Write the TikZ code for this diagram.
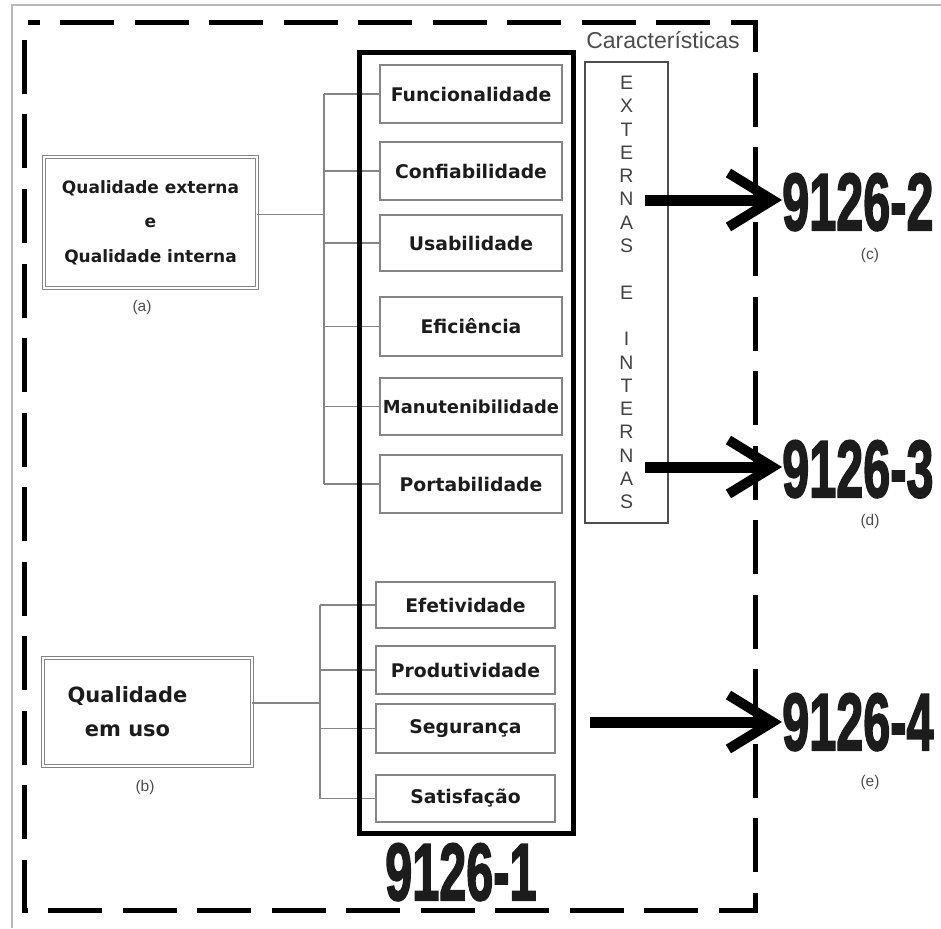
\documentclass[tikz,border=0pt]{standalone}
\usepackage{fontspec}
\usepackage{graphicx}
\setsansfont{DejaVu Sans}
\newfontfamily\arialfont{Liberation Sans}
\newfontfamily\numfont{Liberation Sans}[BoldFeatures={FakeBold=2.5}]
\usetikzlibrary{arrows.meta}
\definecolor{ink}{HTML}{1C1C1C}
\definecolor{edge}{HTML}{858585}
\definecolor{note}{HTML}{4D4D4D}

\begin{document}
\begin{tikzpicture}[x=1pt,y=-1pt,text=ink,line join=miter,
  item/.style={draw=edge,line width=1.2pt,minimum width=182pt,inner sep=0pt,
    font=\fontsize{18.8}{20}\selectfont\sffamily\bfseries},
  group/.style={draw=edge,line width=0.8pt,double,double distance=1.6pt,inner sep=0pt},
  link/.style={edge,line width=1.2pt},
  tag/.style={font=\fontsize{15.5}{17}\selectfont\arialfont,text=note},
  num/.style={inner sep=0pt,anchor=base west,text depth=0pt,
    font=\fontsize{81}{81}\selectfont\numfont\bfseries},
  bigarrow/.style={line width=11pt,-{Straight Barb[length=44pt,width=54pt,line width=10pt]}},
  dashframe/.style={line width=5pt,dash pattern=on 54pt off 20.5pt}]
  \useasboundingbox (0,0) rectangle (941,928);

  % page frame and dashed border
  \draw[gray!55,line width=1.5pt] (12,928) -- (12,5) -- (941,5);
  \draw[dashframe] (24,40) -- (24,910) -- (755,910) -- (755,23) -- (28,23);

  % left groups
  \node[group,minimum width=213pt,minimum height=131pt,align=center,
        font=\fontsize{17}{34.5}\selectfont\sffamily\bfseries] (qext) at (150.5,222.5)
    {Qualidade externa\\e\\Qualidade interna};
  \node[tag] (lbla) at (142,307) {(a)};
  \node[group,minimum width=209pt,minimum height=108pt] (quso) at (147.5,712) {};
  \node[align=center,inner sep=0pt,
        font=\fontsize{21}{34}\selectfont\sffamily\bfseries] (qusotxt) at (127.5,712)
    {Qualidade\\em uso};
  \node[tag] (lblb) at (145,787) {(b)};

  % characteristics of 9126-1
  \node[item,minimum height=58pt] (func) at (471,94) {Funcionalidade};
  \node[item,minimum height=58pt] (conf) at (471,171) {Confiabilidade};
  \node[item,minimum height=56pt] (usab) at (471,243) {Usabilidade};
  \node[item,minimum height=59pt] (efic) at (471,326.5) {Eficiência};
  \node[item,minimum height=57pt,font=\fontsize{17.9}{20}\selectfont\sffamily\bfseries]
    (manu) at (471,406.5) {Manutenibilidade};
  \node[item,minimum height=58pt] (port) at (471,484) {Portabilidade};

  \node[item,minimum width=179pt,minimum height=46pt] (efet) at (465.5,605) {Efetividade};
  \node[item,minimum width=179pt,minimum height=48pt] (prod) at (465.5,670) {Produtividade};
  \node[item,minimum width=179pt,minimum height=49pt] (segu) at (465.5,728.5) {Segurança};
  \node[item,minimum width=179pt,minimum height=47pt] (sati) at (465.5,798.5) {Satisfação};

  % tree connectors
  \coordinate (spineA) at (324,0);
  \coordinate (spineB) at (320,0);
  \coordinate (qextout) at ([yshift=8pt]qext.east);
  \coordinate (qusoout) at ([yshift=9pt]quso.east);
  \draw[link] (qextout) -- (qextout -| spineA);
  \draw[link] (spineA |- func.west) -- (spineA |- port.west);
  \foreach \n in {func,conf,usab,efic,manu,port}
    \draw[link] (spineA |- \n.west) -- (\n.west);
  \draw[link] (qusoout) -- (qusoout -| spineB);
  \draw[link] (spineB |- efet.west) -- (spineB |- sati.west);
  \foreach \n in {efet,prod,segu,sati}
    \draw[link] (spineB |- \n.west) -- (\n.west);

  % part 1 frame
  \node[draw,line width=5pt,minimum width=214pt,minimum height=780pt,inner sep=0pt]
    (part1) at (466,443) {};
  \node[num] (n1) at (385,900) {\scalebox{0.6}[1]{9126-1}};

  % external and internal characteristics
  \node[font=\fontsize{23}{25}\selectfont\arialfont,text=note] (charlbl) at (663,40)
    {Características};
  \node[draw=note,line width=1.2pt,minimum width=83pt,minimum height=461pt,inner sep=0pt,
        align=center,font=\fontsize{19.5}{23.3}\selectfont\arialfont,text=note!85!black]
    (chars) at (626.5,292.5)
    {E\\X\\T\\E\\R\\N\\A\\S\\[23.3pt]E\\[23.3pt]I\\N\\T\\E\\R\\N\\A\\S};

  % other parts
  \node[num] (n2) at (782,230) {\scalebox{0.6}[1]{9126-2}};
  \node[num] (n3) at (782,497) {\scalebox{0.6}[1]{9126-3}};
  \node[num] (n4) at (782,750) {\scalebox{0.6}[1]{9126-4}};
  \node[tag] (lblc) at (870,255) {(c)};
  \node[tag] (lbld) at (870,521) {(d)};
  \node[tag] (lble) at (870,782) {(e)};

  \coordinate (out2) at (645,200);
  \coordinate (out3) at (645,467);
  \coordinate (out4) at (590,722);
  \draw[bigarrow] (out2) -- (out2 -| n2.west);
  \draw[bigarrow] (out3) -- (out3 -| n3.west);
  \draw[bigarrow] (out4) -- (out4 -| n4.west);
\end{tikzpicture}
\end{document}
